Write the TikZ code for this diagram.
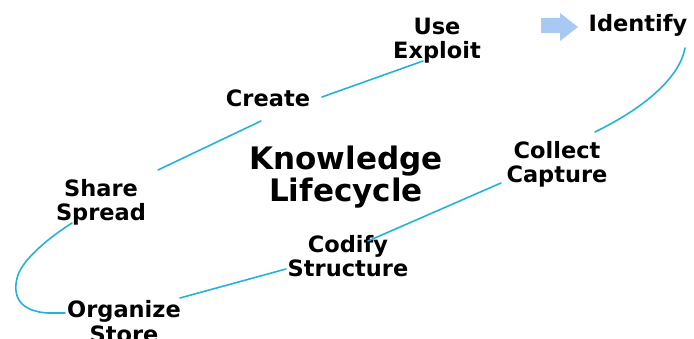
\documentclass[tikz,border=0pt]{standalone}
\usepackage{fontspec}
\setmainfont{DejaVu Sans}
\definecolor{cycleline}{RGB}{38,178,214}
\definecolor{startarrow}{RGB}{168,202,242}
\begin{document}
\begin{tikzpicture}[x=1pt,y=-1pt,
  stage/.style={font=\bfseries\fontsize{22.5}{24.5}\selectfont,align=center,inner sep=0pt,anchor=base},
  title/.style={font=\bfseries\fontsize{31}{32}\selectfont,align=center,inner sep=0pt,anchor=base},
  link/.style={draw=cycleline,line width=1.6pt,line cap=round,line join=round}]
\useasboundingbox (0,0) rectangle (694,339);

% stage labels (positioned by the baseline of their last line)
\node[stage] (identify) at (638,32) {Identify};
\node[stage] (use)      at (437,59) {Use\\Exploit};
\node[stage] (create)   at (268,107) {Create};
\node[stage] (share)    at (101,221) {Share\\Spread};
\node[stage] (organize) at (124,342) {Organize\\Store};
\node[stage] (codify)   at (348,277) {Codify\\Structure};
\node[stage] (collect)  at (557,183) {Collect\\Capture};
\node[title] (centre)   at (346,202) {Knowledge\\Lifecycle};

% start marker
\fill[startarrow] (541,18) -- (560,18) -- (560,13) -- (578,27) -- (560,41) -- (560,33) -- (541,33) -- cycle;

% the cycle
\draw[link] ([shift={(47,16)}]identify.base) .. controls (680,75) and (650,105) .. ([shift={(38,-51)}]collect.base);
\draw[link] ([shift={(-56,0)}]collect.base) -- ([shift={(20,-36)}]codify.base);
\draw[link] ([shift={(-62,-8)}]codify.base) -- ([shift={(56,-44)}]organize.base);
\draw[link] ([shift={(-59,-29)}]organize.base) -- (48,313)
  .. controls (14,311) and (13,290) .. (18,275)
  .. controls (24,258) and (50,237) .. ([shift={(-29,2)}]share.base);
\draw[link] ([shift={(57,-51)}]share.base) -- ([shift={(-7,14)}]create.base);
\draw[link] ([shift={(54,-10)}]create.base) -- ([shift={(-14,2)}]use.base);
\end{tikzpicture}
\end{document}
